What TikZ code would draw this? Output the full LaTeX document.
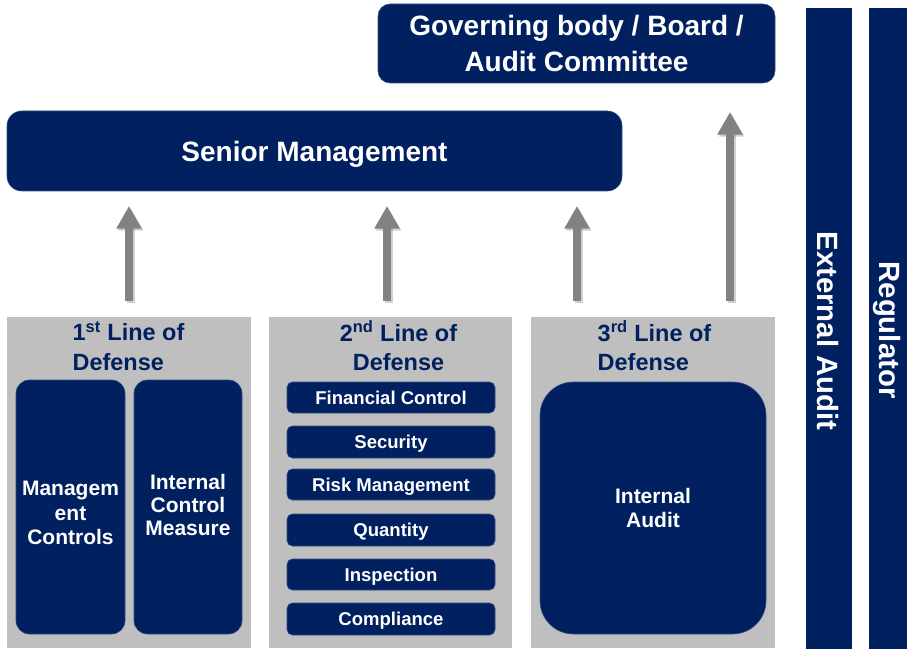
\documentclass[tikz,border=0pt]{standalone}
\usepackage{fontspec}
\setmainfont{Liberation Sans}
\usetikzlibrary{arrows.meta}
\definecolor{navy}{HTML}{002060}
\definecolor{panelgray}{HTML}{BFBFBF}
\definecolor{arrowgray}{HTML}{828282}

\begin{document}
\begin{tikzpicture}[x=0.75pt,y=-0.75pt,
  spanbox/.style n args={4}{anchor=north west, at={(#1,#2)},
    minimum width={(#3-#1)*0.75pt}, minimum height={(#4-#2)*0.75pt}},
  navybox/.style={fill=navy, draw=navy!80!white, line width=0.4pt, text=white,
    inner sep=0pt, outer sep=0pt, align=center, font=\bfseries},
  panel/.style={fill=panelgray, inner sep=0pt, outer sep=0pt},
  bigtext/.style={font=\bfseries\fontsize{21pt}{26.5pt}\selectfont},
  ttl/.style={text=navy, inner sep=0pt,
    font=\bfseries\fontsize{17.6pt}{22pt}\selectfont},
  inner/.style={navybox, rounded corners=10pt, font=\bfseries\fontsize{15.75pt}{18pt}\selectfont},
  pill/.style={navybox, rounded corners=4pt, text depth=0pt,
    font=\bfseries\fontsize{13.9pt}{16pt}\selectfont},
  bar/.style={fill=navy, inner sep=0pt, outer sep=0pt},
  bartext/.style={text=white, rotate=-90, inner sep=0pt, font=\bfseries\fontsize{22pt}{24pt}\selectfont},
  uparrow/.style={draw=arrowgray, line width=6pt, -{Triangle[width=18pt,length=17pt]}},
  upshadow/.style={draw=black, opacity=0.18, line width=6pt, -{Triangle[width=18pt,length=17pt]},
    transform canvas={xshift=1.2pt,yshift=-1.5pt}}
]
\useasboundingbox (0,0) rectangle (907,649);

% governing body and senior management
\node[navybox, bigtext, rounded corners=9pt, spanbox={378}{4}{775}{83}] (gb)
  {Governing body / Board /\\Audit Committee};
\node[navybox, bigtext, rounded corners=11pt, text depth=0pt, spanbox={7}{111}{622}{191}] (sm)
  {Senior Management};

% external bars
\node[bar, spanbox={806}{8}{852}{649}] (ea) {};
\node[bar, spanbox={869}{8}{907}{649}] (rg) {};
\node[bartext] (eat) at (828,331) {External Audit};
\node[bartext] (rgt) at (887,330) {Regulator};

% the three lines of defense
\node[panel, spanbox={7}{317}{251}{648}] (p1) {};
\node[panel, spanbox={269}{317}{512}{648}] (p2) {};
\node[panel, spanbox={531}{317}{775}{648}] (p3) {};

\node[ttl, align=left] (t1) at (128.5,346) {1\textsuperscript{st} Line of\\Defense};
\node[ttl, align=center] (t2) at (398.5,346) {2\textsuperscript{nd} Line of\\Defense};
\node[ttl, align=left] (t3) at (654.5,346) {3\textsuperscript{rd} Line of\\Defense};

% first line
\node[inner, spanbox={16}{380}{125}{634}] (mc) {};
\node[text=white, align=center, inner sep=0pt,
  font=\bfseries\fontsize{15.75pt}{18.5pt}\selectfont] (mct) at (70.5,513) {Managem\\ent\\Controls};
\node[inner, spanbox={134}{380}{242}{634}] (icm) {};
\node[text=white, align=center, inner sep=0pt,
  font=\bfseries\fontsize{15.75pt}{17.5pt}\selectfont] (icmt) at (188,505) {Internal\\Control\\Measure};

% second line
\node[pill, spanbox={287}{382}{495}{413}] (b1) {Financial Control};
\node[pill, spanbox={287}{426}{495}{458}] (b2) {Security};
\node[pill, spanbox={287}{469}{495}{500}] (b3) {Risk Management};
\node[pill, spanbox={287}{514}{495}{546}] (b4) {Quantity};
\node[pill, spanbox={287}{559}{495}{590}] (b5) {Inspection};
\node[pill, spanbox={287}{603}{495}{635}] (b6) {Compliance};

% third line
\node[inner, rounded corners=25pt, spanbox={540}{382}{766}{634}] (ia) {Internal\\Audit};

% reporting arrows
\coordinate (a1) at (129,301);
\coordinate (a2) at (387,301);
\coordinate (a3) at (577,301);
\coordinate (a4) at (730,301);
\foreach \a in {a1,a2,a3}{
  \draw[upshadow, shorten >=11.25pt] (\a) -- (\a |- sm.south);
  \draw[uparrow, shorten >=11.25pt] (\a) -- (\a |- sm.south);
}
\draw[upshadow, shorten >=21.75pt] (a4) -- (a4 |- gb.south);
\draw[uparrow, shorten >=21.75pt] (a4) -- (a4 |- gb.south);
\end{tikzpicture}
\end{document}
